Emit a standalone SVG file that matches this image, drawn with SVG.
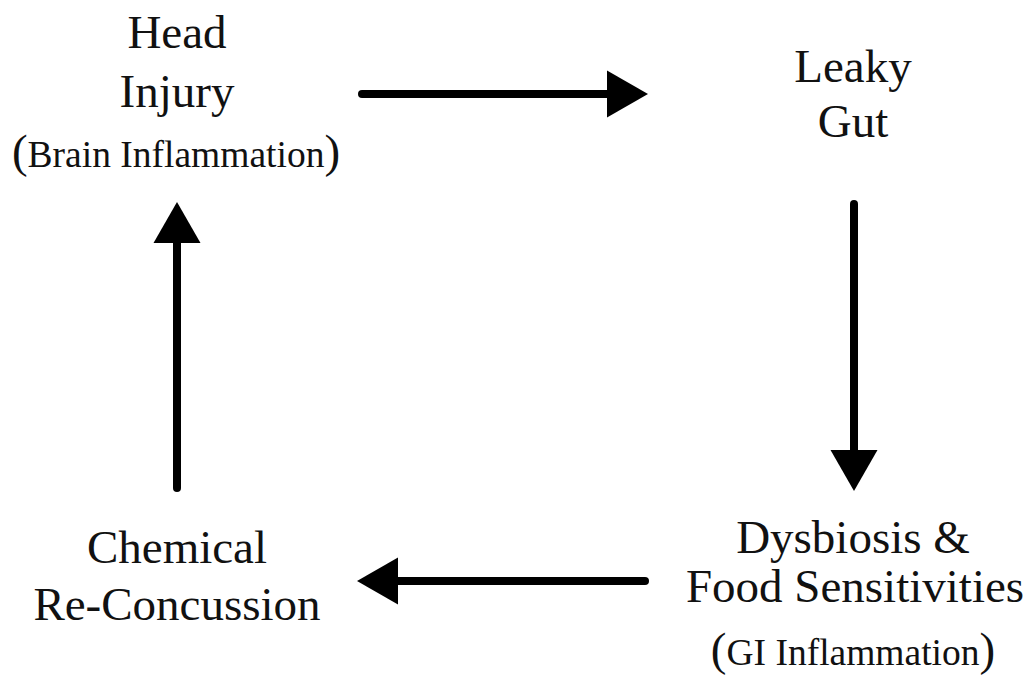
<svg xmlns="http://www.w3.org/2000/svg" width="1031" height="675" viewBox="0 0 1031 675">
<style>
text{font-family:"Liberation Serif","Times New Roman",serif;fill:#111;text-anchor:middle}
.big{font-size:47px}
.sm{font-size:37.5px}
.conn line{stroke:#000;stroke-width:8;stroke-linecap:round}
</style>
<defs>
<marker id="ah" markerUnits="userSpaceOnUse" markerWidth="42" markerHeight="48" refX="0" refY="23.5" orient="auto" overflow="visible">
<path d="M0,0 L41,23.5 L0,47 Z" fill="#000"/>
</marker>
</defs>
<rect width="1031" height="675" fill="#fff"/>
<g id="connectors" class="conn">
<line x1="362" y1="94" x2="607" y2="94" marker-end="url(#ah)"/>
<line x1="854" y1="204" x2="854" y2="450" marker-end="url(#ah)"/>
<line x1="645" y1="581" x2="398" y2="581" marker-end="url(#ah)"/>
<line x1="177" y1="488" x2="177" y2="243" marker-end="url(#ah)"/>
</g>
<g id="head-injury">
<text class="big" x="177" y="48">Head</text>
<text class="big" x="177" y="107">Injury</text>
<text class="big" x="176" y="167">(<tspan class="sm">Brain Inflammation</tspan>)</text>
</g>
<g id="leaky-gut">
<text class="big" x="853" y="82">Leaky</text>
<text class="big" x="853" y="137">Gut</text>
</g>
<g id="dysbiosis">
<text class="big" x="853" y="553">Dysbiosis &amp;</text>
<text class="big" x="855" y="602">Food Sensitivities</text>
<text class="big" x="853" y="665">(<tspan class="sm">GI Inflammation</tspan>)</text>
</g>
<g id="chemical">
<text class="big" x="177" y="563">Chemical</text>
<text class="big" x="177" y="620">Re-Concussion</text>
</g>
</svg>
